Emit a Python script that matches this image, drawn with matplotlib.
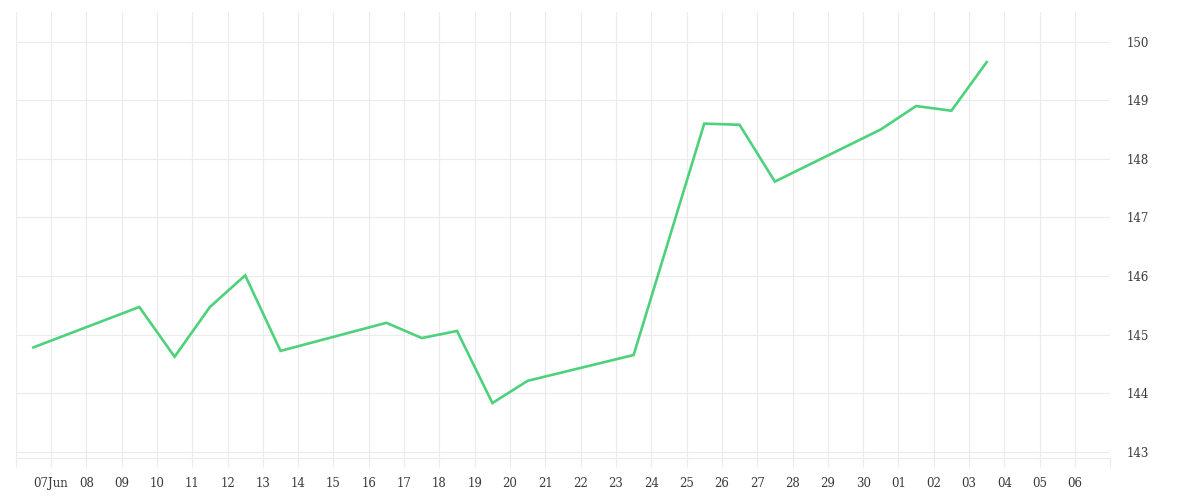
import matplotlib
matplotlib.use("Agg")
import matplotlib.pyplot as plt
import matplotlib.dates as mdates
import pandas as pd

# daily closes (business days)
dates = ["2024-06-07", "2024-06-10", "2024-06-11", "2024-06-12", "2024-06-13",
         "2024-06-14", "2024-06-17", "2024-06-18", "2024-06-19", "2024-06-20",
         "2024-06-21", "2024-06-24", "2024-06-26", "2024-06-27", "2024-06-28",
         "2024-07-01", "2024-07-02", "2024-07-03", "2024-07-04"]
values = [144.78, 145.47, 144.62, 145.47, 146.01,
          144.72, 145.20, 144.94, 145.06, 143.83,
          144.21, 144.65, 148.60, 148.58, 147.61,
          148.50, 148.90, 148.82, 149.65]

y_ticks = [143, 144, 145, 146, 147, 148, 149, 150]

x = pd.to_datetime(dates)

# one tick per day, labels sit half a day after the data points
tick_days = pd.date_range("2024-06-06", "2024-07-07", freq="D")
tick_pos = tick_days + pd.Timedelta(hours=12)
tick_labels = []
for i, d in enumerate(tick_days):
    if i == 0 or i == len(tick_days) - 1:
        tick_labels.append("")
    elif i == 1:
        tick_labels.append(d.strftime("%d%b"))
    else:
        tick_labels.append(d.strftime("%d"))

grid_col = "#ebebeb"
text_col = "#3a3a3a"
plt.rcParams["font.family"] = ["DejaVu Serif"]

fig = plt.figure(figsize=(12, 5), dpi=100)
ax = fig.add_axes([0.01308, 0.0834, 0.91217, 0.892])

ax.plot(x, values, color="#4dd17b", linewidth=1.9, solid_joinstyle="miter")

ax.set_xlim(mdates.date2num(tick_pos[0]), mdates.date2num(tick_pos[-1]))
ax.set_ylim(142.887, 150.50)

ax.set_xticks(tick_pos)
ax.set_xticklabels(tick_labels)
ax.yaxis.tick_right()
ax.set_yticks(y_ticks)

ax.grid(True, color=grid_col, linewidth=0.8)
ax.set_axisbelow(True)

for s in ["top", "left", "right"]:
    ax.spines[s].set_visible(False)
ax.spines["bottom"].set_color(grid_col)
ax.spines["bottom"].set_linewidth(0.8)

ax.tick_params(axis="x", direction="out", length=6.8, width=0.8, color=grid_col,
               labelsize=8.5, labelcolor=text_col, pad=7)
ax.tick_params(axis="y", length=0, labelsize=8.5, labelcolor=text_col, pad=12)

fig.savefig("out.png", dpi=100)
